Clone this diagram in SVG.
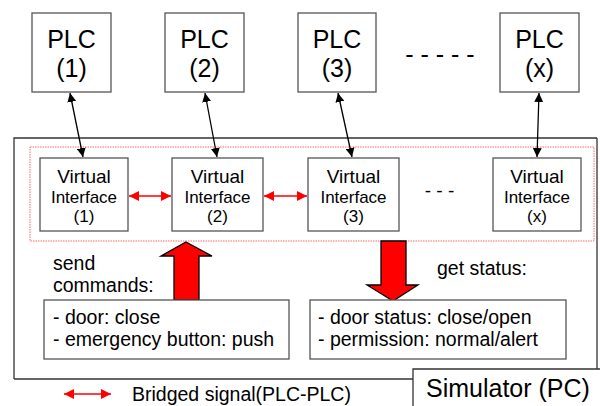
<svg xmlns="http://www.w3.org/2000/svg" width="600" height="406" viewBox="0 0 600 406">
<style>
.box{fill:#fff;stroke:#555;stroke-width:1.3}
.t{font-family:"Liberation Sans",Arial,sans-serif;fill:#000}
.plc{font-size:25px;text-anchor:middle}
.vi1{font-size:19px;text-anchor:middle}
.vi2{font-size:17px;text-anchor:middle}
.lbl{font-size:19.5px}
.blk{stroke:#000;stroke-width:1.3;fill:none}
.red{stroke:#f00;stroke-width:1.5;fill:none}
.big{fill:#f00;stroke:#000;stroke-width:1.3}
</style>
<defs>
<marker id="ab" viewBox="0 0 10 10" refX="10" refY="5" markerWidth="9" markerHeight="9" markerUnits="userSpaceOnUse" orient="auto-start-reverse"><path d="M0,0 L10,5 L0,10 z" fill="#000"/></marker>
<marker id="ar" viewBox="0 0 10 10" refX="10" refY="5" markerWidth="10" markerHeight="10" markerUnits="userSpaceOnUse" orient="auto-start-reverse"><path d="M0,0 L10,5 L0,10 z" fill="#f00"/></marker>
</defs>
<rect width="600" height="406" fill="#fff"/>
<g id="simulator">
<path d="M14,379 V138 H597" fill="none" stroke="#333" stroke-width="1.3"/>
<path d="M14,379 H413" fill="none" stroke="#333" stroke-width="1.3"/>
<path d="M413,406 V369 H600" fill="none" stroke="#333" stroke-width="1.3"/>
<path d="M597,138 V369" fill="none" stroke="#333" stroke-width="1.3"/>
<text class="t" x="426" y="397" font-size="25">Simulator (PC)</text>
</g>
<rect id="bridge-zone" x="30" y="147" width="564" height="94" fill="none" stroke="#f66" stroke-width="1" stroke-dasharray="1.5,1"/>
<g id="plc1"><rect class="box" x="32" y="13" width="79" height="79"/><text class="t plc" x="71.5" y="48">PLC</text><text class="t plc" x="71.5" y="77">(1)</text></g>
<g id="plc2"><rect class="box" x="165" y="13" width="79" height="79"/><text class="t plc" x="204.5" y="48">PLC</text><text class="t plc" x="204.5" y="77">(2)</text></g>
<g id="plc3"><rect class="box" x="298" y="13" width="78" height="79"/><text class="t plc" x="337" y="48">PLC</text><text class="t plc" x="337" y="77">(3)</text></g>
<g id="plcx"><rect class="box" x="500" y="13" width="79" height="79"/><text class="t plc" x="539.5" y="48">PLC</text><text class="t plc" x="539.5" y="77">(x)</text></g>
<text class="t" x="440" y="63" font-size="25" text-anchor="middle">- - - - -</text>
<g id="vi1"><rect class="box" x="40" y="158" width="88" height="73"/><text class="t vi1" x="84" y="183">Virtual</text><text class="t vi2" x="84" y="203">Interface</text><text class="t vi2" x="84" y="222">(1)</text></g>
<g id="vi2"><rect class="box" x="172" y="158" width="91" height="73"/><text class="t vi1" x="217.5" y="183">Virtual</text><text class="t vi2" x="217.5" y="203">Interface</text><text class="t vi2" x="217.5" y="222">(2)</text></g>
<g id="vi3"><rect class="box" x="308" y="158" width="91" height="73"/><text class="t vi1" x="353.5" y="183">Virtual</text><text class="t vi2" x="353.5" y="203">Interface</text><text class="t vi2" x="353.5" y="222">(3)</text></g>
<g id="vix"><rect class="box" x="493" y="158" width="88" height="73"/><text class="t vi1" x="537" y="183">Virtual</text><text class="t vi2" x="537" y="203">Interface</text><text class="t vi2" x="537" y="222">(x)</text></g>
<text class="t" x="439.5" y="197" font-size="19" text-anchor="middle">- - -</text>
<g id="connectors">
<line class="blk" x1="70" y1="93" x2="83" y2="157" marker-start="url(#ab)" marker-end="url(#ab)"/>
<line class="blk" x1="205" y1="93" x2="217" y2="157" marker-start="url(#ab)" marker-end="url(#ab)"/>
<line class="blk" x1="338" y1="93" x2="352" y2="157" marker-start="url(#ab)" marker-end="url(#ab)"/>
<line class="blk" x1="539" y1="93" x2="537" y2="157" marker-start="url(#ab)" marker-end="url(#ab)"/>
<line class="red" x1="129" y1="196" x2="171" y2="196" marker-start="url(#ar)" marker-end="url(#ar)"/>
<line class="red" x1="264" y1="196" x2="307" y2="196" marker-start="url(#ar)" marker-end="url(#ar)"/>
<path class="big" d="M186,242 L212,256 L199,256 L199,300 L174,300 L174,256 L161,256 Z"/>
<path class="big" d="M381,241 L406,241 L406,285 L418,285 L393,301 L367,285 L381,285 Z"/>
</g>
<text class="t lbl" x="53" y="270">send</text>
<text class="t lbl" x="53" y="292">commands:</text>
<text class="t lbl" x="437" y="275">get status:</text>
<g id="commands"><rect class="box" x="44" y="300" width="245" height="59"/><text class="t lbl" x="53" y="324">- door: close</text><text class="t lbl" x="53" y="346">- emergency button: push</text></g>
<g id="status"><rect class="box" x="310" y="300" width="256" height="59"/><text class="t lbl" x="318" y="324">- door status: close/open</text><text class="t lbl" x="318" y="346">- permission: normal/alert</text></g>
<g id="legend">
<line class="red" x1="64" y1="394" x2="111" y2="394" marker-start="url(#ar)" marker-end="url(#ar)"/>
<text class="t lbl" x="132" y="401">Bridged signal(PLC-PLC)</text>
</g>
</svg>
